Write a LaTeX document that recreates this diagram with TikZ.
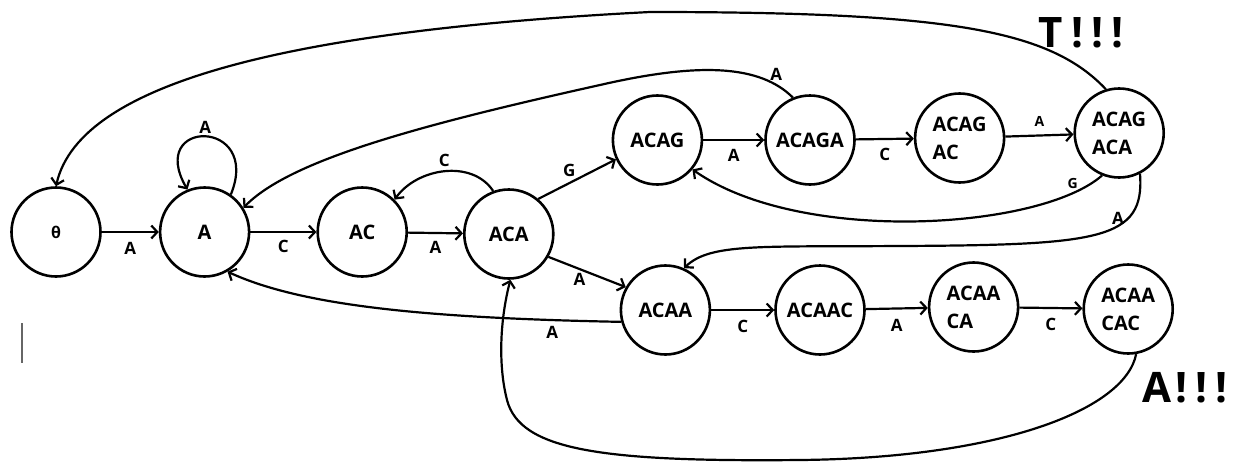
\documentclass[tikz,border=0pt]{standalone}
\usepackage{fontspec}
\setmainfont{Open Sans}
\usetikzlibrary{arrows.meta,positioning}

\begin{document}
\begin{tikzpicture}[
    x=1pt, y=-1pt,
    >={Straight Barb[length=6pt,width=13pt]},
    state/.style={draw, circle, line width=2.6pt, minimum size=89pt,
                  inner sep=0pt, align=left,
                  font=\fontsize{20}{28}\selectfont\bfseries},
    arr/.style={->, line width=2.2pt},
    lbl/.style={font=\fontsize{17}{17}\selectfont\bfseries},
    tiny/.style={font=\fontsize{14}{14}\selectfont\bfseries},
    shout/.style={font=\fontsize{42}{42}\selectfont\bfseries},
  ]
  \useasboundingbox (0,0) rectangle (1233,466);

  % main line
  \node[state] (th) at (56,232) {\fontsize{16}{16}\selectfont θ};
  \node[state, right=57pt of th] (a) {A};
  \node[state, right=66pt of a] (ac) {AC};
  \node[state, right=55pt of ac, yshift=-2pt] (aca) {ACA};

  % upper branch
  \node[state, right=57pt of aca, yshift=94pt] (acag) {ACAG};
  \node[state, right=61pt of acag] (acaga) {ACAGA};
  \node[state, right=58pt of acaga, yshift=2pt] (acagac) {ACAG\\AC};
  \node[state, right=68pt of acagac, yshift=5pt] (acagaca) {ACAG\\ACA};

  % lower branch
  \node[state, right=65pt of aca, yshift=-76pt] (acaa) {ACAA};
  \node[state, right=63pt of acaa] (acaac) {ACAAC};
  \node[state, right=62pt of acaac, yshift=3pt] (acaaca) {ACAA\\CA};
  \node[state, right=63pt of acaaca, yshift=-2pt] (acaacac) {ACAA\\CAC};

  % forward edges
  \draw[arr] (th) -- node[lbl, below=6pt] {A} (a);
  \draw[arr] (a) -- node[lbl, below=4pt] {C} (ac);
  \draw[arr] (ac) -- node[lbl, below=4pt] {A} (aca);
  \draw[arr] (aca.50) -- node[lbl, above=2pt, pos=.4] {G} (acag.205);
  \draw[arr] (acag) -- node[lbl, below=5pt] {A} (acaga);
  \draw[arr] (acaga) -- node[lbl, below=5pt] {C} (acagac);
  \draw[arr] (acagac) -- node[tiny, above=5pt] {A} (acagaca);
  \draw[arr] (aca.-30) -- node[lbl, below, pos=.4] {A} (acaa.150);
  \draw[arr] (acaa) -- node[lbl, below=6pt] {C} (acaac);
  \draw[arr] (acaac) -- node[lbl, below=6pt] {A} (acaaca);
  \draw[arr] (acaaca) -- node[lbl, below=6pt] {C} (acaacac);

  % back edges
  \draw[arr] (a.55) .. controls (262,118) and (146,118) .. node[lbl, above=-1pt] {A} (a.112);
  \draw[arr] (aca.110) .. controls (472,159) and (417,168) .. node[lbl, above] {C} (ac.45);
  \draw[arr] (acaga.112) .. controls (760,65) and (700,62) .. node[lbl, pos=.15, above] {A} (600,85)
    .. controls (420,125) and (290,160) .. (a.32);
  \draw[arr] (acagaca.248) .. controls (1040,230) and (800,245) .. node[tiny, pos=.12, above] {G} (acag.-40);
  \draw[arr] (acagaca.-63) .. controls (1145,240) and (1100,245) .. node[lbl, pos=.3, left] {A} (900,246)
    .. controls (760,247) and (710,243) .. (acaa.66);
  \draw[arr] (acaa.195) .. controls (420,318) and (300,305) .. node[lbl, pos=.12, below=2pt] {A} (a.-60);
  \draw[arr] (acagaca.107) .. controls (1050,30) and (950,12) .. (650,12)
    .. controls (300,30) and (80,80) .. (th.90);
  \draw[arr] (acaacac.-80) .. controls (1125,410) and (1000,458) .. (800,460)
    .. controls (600,462) and (520,450) .. (507,400)
    .. controls (498,365) and (500,320) .. (aca.-88);

  % shouted letters
  \node[shout] (tmark) at (1081,33) {T\hspace{8pt}!\hspace{8pt}!\hspace{8pt}!};
  \node[shout] (amark) at (1185,388) {A\hspace{4pt}!\hspace{8pt}!\hspace{8pt}!};

  \draw[black!60, line width=1.5pt] (22,323) -- (22,363);
\end{tikzpicture}
\end{document}
